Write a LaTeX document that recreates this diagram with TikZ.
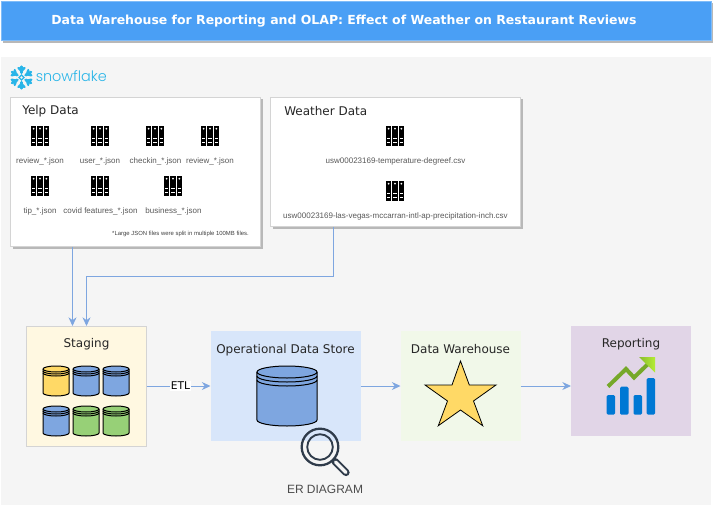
\documentclass[tikz,border=0pt]{standalone}
\usepackage{fontspec}
\setmainfont{DejaVu Sans}
\newfontfamily\filefont{Liberation Sans}
\newfontfamily\logofont{Poppins Light}
\usepackage{xcolor}
\usetikzlibrary{arrows.meta,shadows}
\definecolor{titleblue}{HTML}{4A9FF5}
\definecolor{panelgrey}{HTML}{F5F5F5}
\definecolor{cardedge}{HTML}{D4D4D4}
\definecolor{cardshadow}{HTML}{B8B8B8}
\definecolor{flowblue}{HTML}{7EA6E0}
\definecolor{snowblue}{HTML}{29B5E8}
\definecolor{stagefill}{HTML}{FFF8E1}
\definecolor{odsfill}{HTML}{D8E6FA}
\definecolor{dwfill}{HTML}{F1F8E9}
\definecolor{repfill}{HTML}{E1D5E7}
\definecolor{dbyellow}{HTML}{FFD966}
\definecolor{dbblue}{HTML}{7EA6E0}
\definecolor{dbgreen}{HTML}{97D077}
\definecolor{barblue}{HTML}{0078D4}
\definecolor{trendgreen}{HTML}{76A82A}
\definecolor{trendlime}{HTML}{B4EC36}
\definecolor{lensdark}{HTML}{2F3B4A}
\def\px{.75pt}
\tikzset{
  datafile/.pic={
    \fill[black] (-9,-10) rectangle (-3.9,10);
    \fill[black] (-2.6,-10) rectangle (2.5,10);
    \fill[black] (3.9,-10) rectangle (9,10);
    \foreach \bx in {-6.4,0,6.4}{
      \fill[white] (\bx,-7.3) circle (1);
      \fill[white] (\bx-1.7,2.4) rectangle (\bx+1.7,3.4);
      \fill[white] (\bx-1.7,5.6) rectangle (\bx+1.7,6.6);
    }
  },
  dbstack/.pic={
    \draw[pic actions,line width=.75pt] (-13,-12) -- (-13,12) arc[start angle=180,end angle=0,x radius=13,y radius=3] -- (13,-12) arc[start angle=0,end angle=-180,x radius=13,y radius=3] -- cycle;
    \draw[line width=.75pt] (-13,-12) arc[start angle=180,end angle=0,x radius=13,y radius=3];
    \draw[line width=.75pt] (-13,-10) arc[start angle=180,end angle=0,x radius=13,y radius=3];
    \draw[line width=.75pt] (-13,-8) arc[start angle=180,end angle=0,x radius=13,y radius=3];
  }
}
\begin{document}
\begin{tikzpicture}[x=.75pt,y=-.75pt,
  stage/.style={rectangle,outer sep=0pt,inner sep=0pt},
  card/.style={stage,draw=cardedge,fill=white,line width=.6pt,drop shadow={shadow xshift=1.6pt,shadow yshift=-1.6pt,opacity=1,fill=cardshadow}},
  boxlabel/.style={font=\fontsize{9pt}{11pt}\selectfont,text=black!85,inner sep=0pt,yshift=-.6pt},
  fname/.style={font=\filefont\fontsize{6pt}{7pt}\selectfont,text=black!65,inner sep=0pt,yshift=-.6pt},
  flow/.style={-{Stealth[length=6.5pt,width=6pt]},flowblue,line width=.7pt}]
 \path[use as bounding box,fill=white] (0,0) rectangle (713,506);
 \node[stage,fill=titleblue,draw=titleblue!70!white,line width=.5pt,minimum width=710*\px,minimum height=39.5*\px,drop shadow={shadow xshift=1.6pt,shadow yshift=-1.6pt,opacity=1,fill=cardshadow}] (titlebar) at (356,20.7) {};
 \node[font=\bfseries\fontsize{9.35pt}{12pt}\selectfont,text=white,inner sep=0pt] (titletext) at (344,21) {Data Warehouse for Reporting and OLAP: Effect of Weather on Restaurant Reviews};
 \node[stage,fill=panelgrey,minimum width=710*\px,minimum height=448*\px] (panel) at (356,281) {};

 \foreach \a in {30,90,150,210,270,330}{
  \begin{scope}[shift={(21.5,77.5)},rotate=\a,snowblue,line width=2.1pt,line cap=round]
   \draw (4.8,0) -- (10.8,0);
   \draw[line width=1.8pt] (6.4,0) -- (9.6,3);
   \draw[line width=1.8pt] (6.4,0) -- (9.6,-3);
  \end{scope}
 }
 \draw[snowblue,line width=1pt] (21.5,75) -- (24,77.5) -- (21.5,80) -- (19,77.5) -- cycle;
 \node[font=\logofont\fontsize{10.8pt}{12pt}\selectfont,text=snowblue,inner sep=0pt,anchor=west] (logotext) at (35.5,76.5) {snowflake};

 \node[card,minimum width=250*\px,minimum height=149.5*\px] (yelp) at (135.5,171.75) {};
 \node[card,minimum width=250*\px,minimum height=129.5*\px] (weather) at (395.5,161.75) {};
 \node[boxlabel,anchor=west] (yelplabel) at (22,110.5) {Yelp Data};
 \node[boxlabel,anchor=west] (weatherlabel) at (284,110.5) {Weather Data};

 \pic at (40,136) {datafile};
 \pic at (100,136) {datafile};
 \pic at (155,136) {datafile};
 \pic at (210,136) {datafile};
 \pic at (40,186) {datafile};
 \pic at (100,186) {datafile};
 \pic at (173,186) {datafile};
 \pic at (395,136) {datafile};
 \pic at (395,191) {datafile};
 \node[fname] (review1) at (40,161) {review\_*.json};
 \node[fname] (user) at (100,161) {user\_*.json};
 \node[fname] (checkin) at (155.5,161) {checkin\_*.json};
 \node[fname] (review2) at (210,161) {review\_*.json};
 \node[fname] (tip) at (40,211) {tip\_*.json};
 \node[fname] (covid) at (100.5,211) {covid features\_*.json};
 \node[fname] (business) at (173.5,211) {business\_*.json};
 \node[fname,font=\filefont\fontsize{4.45pt}{5pt}\selectfont,text=black!75] (splitnote) at (180.5,233) {*Large JSON files were split in multiple 100MB files.};
 \node[fname] (tempcsv) at (395.5,161) {usw00023169-temperature-degreef.csv};
 \node[fname] (preccsv) at (395.5,216) {usw00023169-las-vegas-mccarran-intl-ap-precipitation-inch.csv};

 \node[stage,fill=stagefill,draw=cardedge,line width=.6pt,minimum width=120*\px,minimum height=120*\px] (staging) at (86.5,386) {};
 \node[stage,fill=odsfill,minimum width=150*\px,minimum height=110*\px] (ods) at (285.5,386) {};
 \node[stage,fill=dwfill,minimum width=120*\px,minimum height=110*\px] (dw) at (460.5,386) {};
 \node[stage,fill=repfill,minimum width=120*\px,minimum height=110*\px] (rep) at (631,381) {};
 \node[boxlabel] (staginglabel) at (86.5,343.5) {Staging};
 \node[boxlabel] (odslabel) at (285.5,349) {Operational Data Store};
 \node[boxlabel] (dwlabel) at (460.5,348.5) {Data Warehouse};
 \node[boxlabel] (replabel) at (631,343.5) {Reporting};

 \pic[fill=dbyellow] at (56,381) {dbstack};
 \pic[fill=dbblue] at (86,381) {dbstack};
 \pic[fill=dbblue] at (116,381) {dbstack};
 \pic[fill=dbblue] at (56,421) {dbstack};
 \pic[fill=dbgreen] at (86,421) {dbstack};
 \pic[fill=dbgreen] at (116,421) {dbstack};
 \pic[fill=dbblue,xscale=2.31,yscale=2] at (287,396) {dbstack};

 \draw[fill=dbyellow,line width=.6pt,miter limit=10] (460.5,361) -- (469.3,385) -- (496,385) -- (473.5,401) -- (482.7,425.7) -- (460.5,410) -- (438.3,425.7) -- (447.5,401) -- (425,385) -- (452,385) -- cycle;

 \fill[barblue,rounded corners=1pt] (606.7,395) rectangle (615,414.7);
 \fill[barblue,rounded corners=1pt] (620,386.7) rectangle (628.5,414.7);
 \fill[barblue,rounded corners=1pt] (633.5,395) rectangle (642,414.7);
 \fill[barblue,rounded corners=1pt] (646.7,378) rectangle (655,414.7);
 \draw[trendgreen,line width=3pt] (608,386.5) -- (626,369) -- (634,377.5) -- (649,363);
 \shade[left color=trendgreen!70!trendlime,right color=trendlime] (639,357) -- (655,357) -- (655,372.5) -- cycle;

 \draw[lensdark,line width=1.7pt] (320,447) circle (18.3);
 \draw[lensdark,line width=1.4pt] (320,447) circle (12.8);
 \draw[lensdark,line width=5.4pt,line cap=round] (335,461.5) -- (346,472.5);
 \draw[panelgrey,line width=2.6pt,line cap=round] (335.5,462) -- (346,472.5);
 \node[font=\filefont\fontsize{9pt}{11pt}\selectfont,text=black!70,inner sep=0pt] (ertext) at (325,489.5) {ER DIAGRAM};

 \coordinate (yelpdrop) at (72.5,326);
 \coordinate (weatherdrop) at (333,227);
 \draw[flow] (yelp.south -| yelpdrop) -- (yelpdrop);
 \draw[flow] (weather.south -| weatherdrop) -- ++(0,50) -| (staging.north);
 \draw[flow] (staging.east) -- node[fill=white,text=black,inner sep=.5pt,pos=.53,font=\fontsize{8pt}{10pt}\selectfont] (etl) {ETL} (ods.west);
 \draw[flow] (ods.east) -- (dw.west);
 \draw[flow] (dw.east) -- (rep.west |- dw.east);
\end{tikzpicture}
\end{document}
